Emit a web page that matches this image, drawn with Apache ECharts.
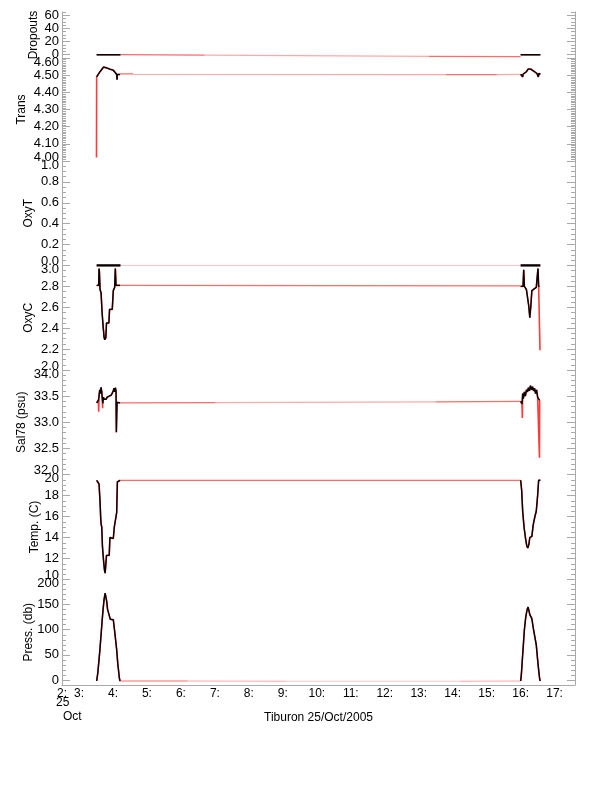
<!DOCTYPE html>
<html><head><meta charset="utf-8">
<script src="https://cdn.jsdelivr.net/npm/echarts@6.0.0/dist/echarts.min.js"></script>
<style>html,body{margin:0;padding:0;background:#fff}#c{width:612px;height:785px}</style>
</head><body><div id="c"></div>
<script>
// ---------- time axis (hours of 25 Oct 2005) ----------
const xMin = 2.5, xMax = 17.6;
const hourLabelValues = [2.5,3,4,5,6,7,8,9,10,11,12,13,14,15,16,17];
const xTitle = 'Tiburon 25/Oct/2005';

// ---------- Dropouts ----------
const dropTicks = [0,20,40,60];
const dropCast1 = [[3.52,0],[4.22,0]];
const dropCast2 = [[16.00,0],[16.58,0]];
const dropSpikes = [];
const dropLinkA = [[4.22,0],[6.7,-0.5]];
const dropLinkB = [[6.7,-0.5],[13.3,-2.5]];
const dropLinkC = [[13.3,-2.5],[16.0,-3]];

// ---------- Trans ----------
const transTicks = [4.0,4.1,4.2,4.3,4.4,4.5,4.6];
const transCast1 = [[3.52,4.49],[3.54,4.494],[3.55,4.485],[3.57,4.50],[3.60,4.515],[3.62,4.523],[3.67,4.533],[3.72,4.547],[3.77,4.547],[3.81,4.543],[3.86,4.537],[3.91,4.535],[3.96,4.533],[4.01,4.529],[4.06,4.517],[4.11,4.504],[4.12,4.474],[4.13,4.504],[4.21,4.504]];
const transCast2 = [[16.0,4.505],[16.04,4.50],[16.06,4.49],[16.07,4.505],[16.12,4.515],[16.17,4.52],[16.22,4.535],[16.26,4.545],[16.30,4.535],[16.34,4.53],[16.41,4.52],[16.45,4.515],[16.48,4.51],[16.52,4.49],[16.54,4.51],[16.58,4.505]];
const transSpikes = [[3.515,4.02]];
const transLinkA = [[4.21,4.508],[4.6,4.508]];
const transLinkB = [[4.6,4.504],[13.8,4.503]];
const transLinkC = [[13.8,4.503],[15.3,4.503]];
const transLinkD = [[15.3,4.503],[16.0,4.505]];

// ---------- OxyT ----------
const oxytTicks = [0.0,0.2,0.4,0.6,0.8,1.0];
const oxytCast1 = [[3.52,0],[4.22,0]];
const oxytCast2 = [[16.0,0],[16.58,0]];
const oxytSpikes = [];
const oxytLinkA = [[4.22,0],[16.0,0]];

// ---------- OxyC ----------
const oxycTicks = [2.0,2.2,2.4,2.6,2.8,3.0];
const oxycCast1 = [[3.52,2.81],[3.58,2.81],[3.59,2.97],[3.60,2.95],[3.62,2.77],[3.65,2.74],[3.68,2.55],[3.71,2.42],[3.74,2.31],[3.76,2.29],[3.79,2.31],[3.81,2.45],[3.88,2.45],[3.90,2.58],[3.98,2.58],[4.01,2.76],[4.05,2.79],[4.07,2.97],[4.09,2.81],[4.21,2.81]];
const oxycCast2 = [[16.0,2.80],[16.07,2.80],[16.09,2.96],[16.11,2.80],[16.17,2.77],[16.21,2.76],[16.24,2.61],[16.27,2.50],[16.30,2.61],[16.33,2.76],[16.38,2.76],[16.46,2.79],[16.49,2.80],[16.51,2.97],[16.53,2.80],[16.56,2.80]];
const oxycSpikes = [[16.57,2.19]];
const oxycLinkA = [[4.21,2.81],[16.0,2.805]];

// ---------- Sal78 ----------
const salTicks = [32.0,32.5,33.0,33.5,34.0];
const salCast1 = [[3.52,33.37],[3.55,33.38],[3.57,33.42],[3.59,33.5],[3.61,33.62],[3.63,33.55],[3.65,33.67],[3.67,33.58],[3.69,33.42],[3.70,33.36],[3.72,33.48],[3.74,33.44],[3.77,33.47],[3.80,33.44],[3.83,33.48],[3.86,33.46],[3.89,33.5],[3.92,33.48],[3.95,33.52],[3.98,33.56],[4.01,33.6],[4.03,33.65],[4.05,33.58],[4.07,33.66],[4.09,33.6],[4.10,32.81],[4.12,33.38],[4.15,33.37],[4.21,33.37]];
const salCast2 = [[16.0,33.40],[16.02,33.42],[16.04,33.35],[16.06,33.55],[16.08,33.45],[16.11,33.58],[16.14,33.5],[16.17,33.62],[16.20,33.58],[16.23,33.66],[16.26,33.6],[16.29,33.7],[16.32,33.62],[16.35,33.68],[16.38,33.6],[16.41,33.65],[16.44,33.55],[16.47,33.62],[16.50,33.48],[16.53,33.45],[16.56,33.42],[16.58,33.42]];
const salSpikes = [[3.58,33.2],[3.695,33.27],[16.05,33.08],[16.555,32.32]];
const salLinkA = [[4.21,33.37],[7.0,33.375]];
const salLinkB = [[7.0,33.375],[13.5,33.39]];
const salLinkC = [[13.5,33.39],[16.0,33.40]];

// ---------- Temp ----------
const tempTicks = [10,12,14,16,18,20];
const tempCast1 = [[3.52,19.45],[3.56,19.45],[3.59,19.1],[3.62,17.4],[3.64,15.8],[3.65,15.3],[3.67,15.0],[3.69,13.2],[3.72,11.9],[3.75,10.9],[3.77,10.6],[3.79,10.7],[3.81,12.3],[3.89,12.3],[3.91,14.0],[3.96,13.9],[4.01,13.9],[4.04,15.0],[4.08,15.1],[4.11,16.4],[4.13,19.3],[4.16,19.45],[4.21,19.45]];
const tempCast2 = [[16.0,19.45],[16.03,18.5],[16.06,16.5],[16.10,15.0],[16.14,14.0],[16.18,13.2],[16.21,13.0],[16.24,13.3],[16.27,14.0],[16.33,14.1],[16.37,15.2],[16.42,16.0],[16.46,16.5],[16.50,18.0],[16.53,19.45],[16.58,19.45]];
const tempSpikes = [];
const tempLinkA = [[4.21,19.45],[16.0,19.45]];

// ---------- Press ----------
const pressTicks = [0,50,100,150,200];
const pressCast1 = [[3.52,-2],[3.55,12],[3.59,40],[3.62,64],[3.65,90],[3.68,117],[3.71,141],[3.74,161],[3.77,173],[3.79,170],[3.82,155],[3.84,141],[3.89,141],[3.92,121],[4.01,120],[4.05,97],[4.08,94],[4.11,60],[4.14,34],[4.17,33],[4.19,3],[4.21,-2]];
const pressCast2 = [[16.00,-2],[16.02,10],[16.05,40],[16.08,70],[16.11,100],[16.15,125],[16.19,140],[16.22,145],[16.25,143],[16.27,130],[16.31,128],[16.33,122],[16.36,120],[16.38,100],[16.43,98],[16.46,70],[16.50,40],[16.53,20],[16.56,2],[16.58,-2]];
const pressSpikes = [];
const pressLinkA = [[4.21,-2],[6.2,-2]];
const pressLinkB = [[6.2,-2],[9.1,-2.5]];
const pressLinkC = [[9.1,-2.5],[14.2,-2.5]];
const pressLinkD = [[14.2,-2.5],[16.0,-2]];

// ---------- styles / layout ----------
const FONT = 'Liberation Sans, Arial, Helvetica, sans-serif';
const GRAY = '#a9a9a9';
const TONE = {red:'#ff6a6a', pink:'#ffa8a8', light:'#ffc8c8'};
const RED_CAST = '#ff3a3a';

const panels = [
  {name:'Dropouts', min:-5, max:65, ticks:dropTicks, minorStep:5, dec:0, top:12, height:46, gap:22,
   casts:[dropCast1,dropCast2], spikes:dropSpikes, links:[[dropLinkA,'red'],[dropLinkB,'pink'],[dropLinkC,'red']], bw:1.4},
  {name:'Trans', min:4.0, max:4.6, ticks:transTicks, minorStep:0.01, dec:2, top:58, height:103, gap:34,
   casts:[transCast1,transCast2], spikes:transSpikes, links:[[transLinkA,'red'],[transLinkB,'pink'],[transLinkC,'red'],[transLinkD,'pink']], bw:1.4},
  {name:'OxyT', min:0, max:1, ticks:oxytTicks, minorStep:0.05, dec:1, top:161, height:104.5, gap:27,
   casts:[oxytCast1,oxytCast2], spikes:oxytSpikes, links:[[oxytLinkA,'light']], bw:2.6},
  {name:'OxyC', min:2, max:3, ticks:oxycTicks, minorStep:0.05, dec:1, top:265.5, height:104.5, gap:27,
   casts:[oxycCast1,oxycCast2], spikes:oxycSpikes, links:[[oxycLinkA,'red']], bw:1.4},
  {name:'Sal78 (psu)', min:32, max:34, ticks:salTicks, minorStep:0.1, dec:1, top:370, height:104.5, gap:34,
   casts:[salCast1,salCast2], spikes:salSpikes, links:[[salLinkA,'red'],[salLinkB,'pink'],[salLinkC,'red']], bw:1.4},
  {name:'Temp. (C)', min:10, max:20, ticks:tempTicks, minorStep:0.5, dec:0, top:474.5, height:105, gap:21,
   casts:[tempCast1,tempCast2], spikes:tempSpikes, links:[[tempLinkA,'red']], bw:1.4},
  {name:'Press. (db)', min:-10, max:200, ticks:pressTicks, minorStep:10, dec:0, top:579.5, height:105.5, gap:27,
   casts:[pressCast1,pressCast2], spikes:pressSpikes, links:[[pressLinkA,'red'],[pressLinkB,'pink'],[pressLinkC,'light'],[pressLinkD,'pink']], bw:1.4}
];

function minorValues(min, max, step) {
  const out = [];
  const n0 = Math.ceil(min / step - 1e-9), n1 = Math.floor(max / step + 1e-9);
  for (let n = n0; n <= n1; n++) out.push(+(n * step).toFixed(6));
  return out;
}

const grid = [], xAxis = [], yAxis = [], series = [];
panels.forEach((p, i) => {
  const last = i === panels.length - 1;
  grid.push({left:62, right:37, top:p.top, height:p.height});
  xAxis.push(last ? {
    gridIndex:i, type:'value', min:xMin, max:xMax, position:'bottom',
    axisLine:{show:true, onZero:false, lineStyle:{color:GRAY}},
    axisTick:{show:false}, splitLine:{show:false},
    axisLabel:{customValues:hourLabelValues, margin:3, color:'#000', fontSize:12, fontFamily:FONT,
      formatter:v => Math.floor(v) + ':'},
    name:xTitle, nameLocation:'middle', nameGap:27, nameMoveOverlap:false,
    nameTextStyle:{color:'#000', fontSize:12, fontFamily:FONT}
  } : {gridIndex:i, type:'value', min:xMin, max:xMax, show:false});

  const minor = minorValues(p.min, p.max, p.minorStep);
  const near = (a, b) => Math.abs(a - b) < 1e-9;
  const fmt = v => {
    const s = v.toFixed(p.dec);
    if (near(v, p.max)) return '{t|' + s + '}';
    if (near(v, p.min)) return '{b|' + s + '}';
    return s;
  };
  const base = {gridIndex:i, type:'value', min:p.min, max:p.max, splitLine:{show:false}};
  yAxis.push(Object.assign({}, base, {
    position:'left', name:p.name, nameLocation:'middle', nameGap:p.gap, nameRotate:90, nameMoveOverlap:false,
    nameTextStyle:{color:'#000', fontSize:12, fontFamily:FONT},
    axisLine:{show:true, onZero:false, lineStyle:{color:GRAY}},
    axisTick:{show:true, inside:true, length:8, customValues:p.ticks, lineStyle:{color:GRAY}},
    axisLabel:{show:true, customValues:p.ticks, margin:3, color:'#000', fontSize:13, fontFamily:FONT,
      hideOverlap:false,
      formatter:fmt,
      rich:{t:{padding:[8,0,0,0], fontSize:13, fontFamily:FONT, color:'#000'},
            b:{padding:[0,0,8,0], fontSize:13, fontFamily:FONT, color:'#000'}}}
  }));
  yAxis.push(Object.assign({}, base, {
    position:'left', axisLine:{show:false, onZero:false},
    axisTick:{show:true, inside:true, length:4, customValues:minor, lineStyle:{color:GRAY}},
    axisLabel:{show:false}
  }));
  yAxis.push(Object.assign({}, base, {
    position:'right', axisLine:{show:true, onZero:false, lineStyle:{color:GRAY}},
    axisTick:{show:true, inside:true, length:8, customValues:p.ticks, lineStyle:{color:GRAY}},
    axisLabel:{show:false}
  }));
  yAxis.push(Object.assign({}, base, {
    position:'right', axisLine:{show:false, onZero:false},
    axisTick:{show:true, inside:true, length:4, customValues:minor, lineStyle:{color:GRAY}},
    axisLabel:{show:false}
  }));

  const yi = i * 4;
  const common = {type:'line', xAxisIndex:i, yAxisIndex:yi, showSymbol:false, symbol:'none', silent:true, animation:false};
  p.links.forEach(([data, tone]) => {
    series.push(Object.assign({}, common, {data:data, lineStyle:{color:TONE[tone], width:1.2}}));
  });
  const redData = p.casts[0].concat(p.casts[1], p.spikes).sort((a, b) => a[0] - b[0]);
  // red trace (split at the gap between the two casts)
  const split = 10;
  series.push(Object.assign({}, common, {data:redData.filter(d => d[0] < split), lineStyle:{color:RED_CAST, width:1.6}}));
  series.push(Object.assign({}, common, {data:redData.filter(d => d[0] > split), lineStyle:{color:RED_CAST, width:1.6}}));
  p.casts.forEach(c => {
    series.push(Object.assign({}, common, {data:c, lineStyle:{color:'#000', width:p.bw}}));
  });
});

const chart = echarts.init(document.getElementById('c'), null, {renderer:'canvas'});
chart.setOption({
  backgroundColor:'#fff',
  animation:false,
  grid, xAxis, yAxis, series,
  graphic:[
    {type:'text', left:56, top:697, style:{text:'25', fill:'#000', font:'12px ' + FONT}},
    {type:'text', left:63, top:711, style:{text:'Oct', fill:'#000', font:'12px ' + FONT}}
  ]
});
</script></body></html>
